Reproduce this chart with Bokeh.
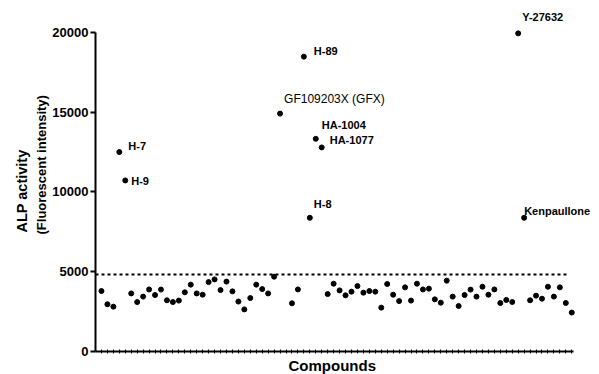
from bokeh.plotting import figure
from bokeh.models import Range1d, FixedTicker, Label, Title
from bokeh.embed import file_html
from bokeh.resources import INLINE

# ---- data ----
compound_no = [i for i in range(80) if i != 31]
alp_activity = [
    3790, 2960, 2810, 12500, 10720, 3640, 3100, 3440, 3890, 3540,
    3880, 3210, 3100, 3190, 3710, 4190, 3640, 3560, 4350, 4520,
    3850, 4380, 3770, 3130, 2640, 3350, 4190, 3910, 3640, 4690,
    14910,
    3020, 3890, 18480, 8380, 13330, 12790, 3600, 4250, 3830, 3520,
    3750, 4100, 3690, 3790, 3750, 2750, 4230, 3560, 3160, 4020,
    3190, 4250, 3890, 3940, 3270, 3060, 4440, 3440, 2850, 3540,
    3880, 3440, 4060, 3560, 3890, 3040, 3230, 3100, 19940, 8380,
    3210, 3500, 3310, 4060, 3440, 4020, 3040, 2440,
]
threshold = 4830
y_ticks = [0, 5000, 10000, 15000, 20000]

labeled_names = ["H-7", "H-9", "GF109203X (GFX)", "H-89", "H-8",
                 "HA-1004", "HA-1077", "Y-27632", "Kenpaullone"]
labeled_index = [3, 4, 30, 34, 35, 36, 37, 70, 71]

# label placement (pixels relative to the point) and styles
label_dx = [9, 6, 4, 10, 4, 6, 8, 4, 0]
label_dy = [6, -1, 15, 6, 14, 13.5, 7, 16, 7]
label_style = ["bold", "bold", "normal", "bold", "bold", "bold", "bold", "bold", "bold"]
label_size = ["11px", "11px", "12px", "11px", "11px", "11px", "11px", "11px", "11px"]

FONT = "Liberation Sans"

p = figure(width=599, height=374, output_backend="svg", toolbar_location=None,
           x_range=Range1d(-1, 83.66), y_range=Range1d(0, 22000),
           min_border_left=95, min_border_right=0, min_border_top=0,
           min_border_bottom=22)
p.outline_line_color = None
p.xgrid.visible = False
p.ygrid.visible = False
p.background_fill_color = "white"
p.border_fill_color = "white"

# axes
p.yaxis.bounds = (0, 20000)
p.yaxis.ticker = FixedTicker(ticks=y_ticks)
p.yaxis.minor_tick_line_color = None
p.yaxis.major_tick_out = 5
p.yaxis.major_tick_in = 0
p.yaxis.major_tick_line_width = 2
p.yaxis.axis_line_width = 2
p.yaxis.major_label_standoff = 2
p.yaxis.major_label_text_font = FONT
p.yaxis.major_label_text_font_style = "bold"
p.yaxis.major_label_text_font_size = "13px"
p.yaxis.major_label_text_color = "black"

p.xaxis.bounds = (-1, 79.3)
p.xaxis.ticker = FixedTicker(ticks=list(range(80)))
p.xaxis.minor_tick_line_color = None
p.xaxis.major_tick_in = 2
p.xaxis.major_tick_out = 2
p.xaxis.major_tick_line_width = 1
p.xaxis.axis_line_width = 2
p.xaxis.major_label_text_font_size = "0px"
p.xaxis.major_label_text_color = None
p.xaxis.major_label_standoff = 0

# axis titles (as side-panel titles so they can be placed like the original)
p.add_layout(Title(text="(Fluorescent intensity)", align="left", offset=117,
                   standoff=1, text_font=FONT, text_font_style="bold",
                   text_font_size="13px", text_color="black"), "left")
p.add_layout(Title(text="ALP activity", align="left", offset=119,
                   standoff=4, text_font=FONT, text_font_style="bold",
                   text_font_size="14.5px", text_color="black"), "left")
p.add_layout(Title(text="Compounds", align="left", offset=193,
                   standoff=2, text_font=FONT, text_font_style="bold",
                   text_font_size="15px", text_color="black"), "below")

# threshold dashed line
p.segment(x0=[-1], x1=[compound_no[-1] - 0.8], y0=[threshold], y1=[threshold],
          line_color="black", line_width=2, line_dash="3 3")

# points
p.scatter(compound_no, alp_activity, size=5, color="black")

# point labels
for name, idx, dx, dy, st, sz in zip(labeled_names, labeled_index, label_dx,
                                     label_dy, label_style, label_size):
    val = alp_activity[compound_no.index(idx)]
    p.add_layout(Label(x=idx, y=val, text=name, x_offset=dx, y_offset=dy,
                       text_font=FONT, text_font_style=st, text_font_size=sz,
                       text_baseline="middle", text_align="left",
                       text_color="black"))

open("out.html", "w").write(file_html(p, INLINE))
